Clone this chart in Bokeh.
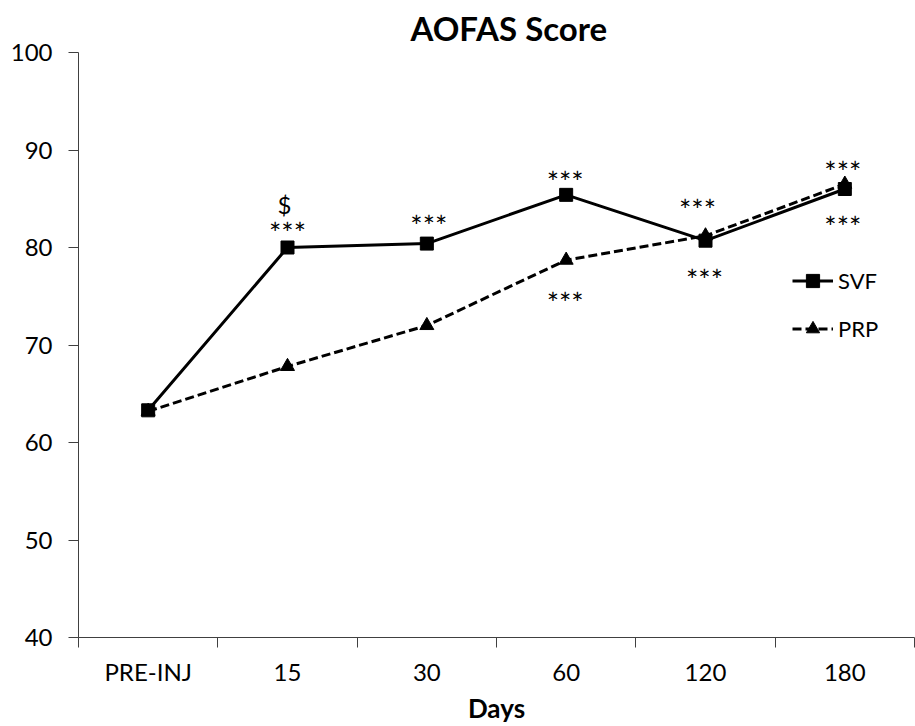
from bokeh.plotting import figure
from bokeh.models import Range1d, FixedTicker, Legend, LegendItem, ColumnDataSource
from bokeh.core.properties import value
from bokeh.embed import file_html
from bokeh.resources import INLINE

# ---- data ----
categories = ["PRE-INJ", "15", "30", "60", "120", "180"]
svf = [63.3, 80.0, 80.4, 85.4, 80.7, 86.0]
prp = [63.2, 67.8, 72.0, 78.7, 81.2, 86.5]
y_ticks = [40, 50, 60, 70, 80, 90, 100]

# significance marks: series they refer to, category, text
ann_series = ["SVF", "SVF", "SVF", "SVF", "PRP", "SVF", "PRP", "PRP", "SVF"]
ann_cat = ["15", "15", "30", "60", "60", "120", "120", "180", "180"]
ann_text = ["$", "***", "***", "***", "***", "***", "***", "***", "***"]
# layout of the marks (pixel offsets and font sizes only)
ann_dx = [-3, 0, 2, -1, -1, -8, -1, -2, -2]
ann_dy = [-43, -15, -18, -13, 42, -31, 44, -13, 37]
ann_size = ["24px"] + ["29px"] * 8

FONT = "Lato"
INK = "#000000"
AXIS = "#404040"

xs = [i + 0.5 for i in range(len(categories))]
xmap = dict(zip(categories, xs))
vals = {"SVF": dict(zip(categories, svf)), "PRP": dict(zip(categories, prp))}

p = figure(width=915, height=726,
           x_range=Range1d(0, len(categories)), y_range=Range1d(40, 100),
           output_backend="svg", toolbar_location=None,
           min_border_left=78, min_border_right=1, min_border_top=52,
           min_border_bottom=89)
p.outline_line_color = None
p.background_fill_color = "white"
p.border_fill_color = "white"
p.xgrid.visible = False
p.ygrid.visible = False

p.title.text = "AOFAS Score"
p.title.text_font = FONT
p.title.text_font_style = "bold"
p.title.text_font_size = "33px"
p.title.align = "left"
p.title.offset = 332
p.title.standoff = 10
p.title.text_color = INK

# y axis
p.yaxis.ticker = FixedTicker(ticks=y_ticks)
p.yaxis.axis_line_color = AXIS
p.yaxis.major_tick_line_color = AXIS
p.yaxis.major_tick_out = 10
p.yaxis.major_tick_in = 0
p.yaxis.minor_tick_line_color = None
p.yaxis.major_label_text_font = FONT
p.yaxis.major_label_text_font_size = "24px"
p.yaxis.major_label_text_color = INK
p.yaxis.major_label_standoff = 16

# x axis: labels at category centres, ticks at boundaries
p.xaxis.ticker = FixedTicker(ticks=xs, minor_ticks=list(range(len(categories) + 1)))
p.xaxis.major_label_overrides = {x: c for x, c in zip(xs, categories)}
p.xaxis.axis_line_color = AXIS
p.xaxis.major_tick_line_color = None
p.xaxis.minor_tick_line_color = AXIS
p.xaxis.minor_tick_out = 10
p.xaxis.minor_tick_in = 0
p.xaxis.major_tick_out = 10
p.xaxis.major_tick_in = 0
p.xaxis.major_label_text_font = FONT
p.xaxis.major_label_text_font_size = "24px"
p.xaxis.major_label_text_color = INK
p.xaxis.major_label_standoff = 9
p.xaxis.axis_label = "Days"
p.xaxis.axis_label_text_font = FONT
p.xaxis.axis_label_text_font_style = "bold"
p.xaxis.axis_label_text_font_size = "26px"
p.xaxis.axis_label_text_color = INK
p.xaxis.axis_label_standoff = 3

src = ColumnDataSource(dict(x=xs, svf=svf, prp=prp))
l1 = p.line("x", "svf", source=src, line_color=INK, line_width=3)
m1 = p.scatter("x", "svf", source=src, marker="square", size=13, color=INK)
l2 = p.line("x", "prp", source=src, line_color=INK, line_width=3, line_dash="9 4")
m2 = p.scatter("x", "prp", source=src, marker="triangle", size=14, color=INK)
# SVF drawn on top
p.renderers = [l2, m2, l1, m1]

asrc = ColumnDataSource(dict(
    x=[xmap[c] for c in ann_cat],
    y=[vals[s][c] for s, c in zip(ann_series, ann_cat)],
    text=ann_text, dx=ann_dx, dy=ann_dy, fs=ann_size))
p.text("x", "y", text="text", source=asrc, x_offset="dx", y_offset="dy",
       text_align="center", text_baseline="middle",
       text_font=value(FONT), text_font_size="fs", text_color=INK)

legend = Legend(items=[LegendItem(label="SVF", renderers=[l1, m1]),
                       LegendItem(label="PRP", renderers=[l2, m2])],
                location=(714, 292), orientation="vertical",
                glyph_width=41, glyph_height=33, label_height=33,
                label_standoff=5, spacing=15, padding=0, margin=0,
                border_line_color=None, background_fill_alpha=0,
                label_text_font=FONT, label_text_font_size="22px",
                label_text_color=INK)
p.add_layout(legend)

open("out.html", "w").write(file_html(p, INLINE))
